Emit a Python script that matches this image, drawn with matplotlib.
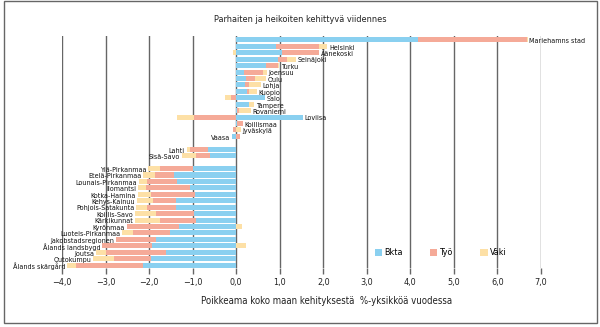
import matplotlib.pyplot as plt
import numpy as np
from matplotlib import font_manager
from matplotlib.patches import Rectangle

# narrowest installed sans for the crowded labels
fonts = font_manager.fontManager.ttflist
if any(f.name == 'Liberation Sans Narrow' for f in fonts):
    plt.rcParams['font.family'] = ['Liberation Sans Narrow', 'DejaVu Sans']
    stretch = 'normal'
elif any(f.name == 'DejaVu Sans' and f.stretch == 'condensed' for f in fonts):
    plt.rcParams['font.family'] = ['DejaVu Sans']
    stretch = 'condensed'
else:
    plt.rcParams['font.family'] = ['Liberation Sans', 'DejaVu Sans']
    stretch = 'normal'
plt.rcParams['font.stretch'] = stretch

# regions, top to bottom ('' = empty separator row)
regions = ['Mariehamns stad', 'Helsinki', 'Äänekoski', 'Seinäjoki', 'Turku', 'Joensuu',
           'Oulu', 'Lohja', 'Kuopio', 'Salo', 'Tampere', 'Rovaniemi', 'Loviisa',
           'Koillismaa', 'Jyväskylä', 'Vaasa', '', 'Lahti', 'Sisä-Savo', '',
           'Ylä-Pirkanmaa', 'Etelä-Pirkanmaa', 'Lounais-Pirkanmaa', 'Ilomantsi',
           'Kotka-Hamina', 'Kehys-Kainuu', 'Pohjois-Satakunta', 'Koillis-Savo',
           'Kärkikunnat', 'Kyrönmaa', 'Luoteis-Pirkanmaa', 'Jakobstadsregionen',
           'Ålands landsbygd', 'Joutsa', 'Outokumpu', 'Ålands skärgård']

bkta = [4.18, 0.92, 1.05, 0.95, 0.68, 0.19, 0.23, 0.21, 0.25, 0.67, 0.29, 0.03, 1.53,
        0.01, 0.00, -0.09, 0, -0.65, -0.61, 0,
        -0.99, -1.42, -1.35, -1.07, -0.94, -1.38, -1.38, -0.98, -0.92, -1.31, -1.51,
        -1.84, -1.93, -1.61, -1.95, -2.15]
tyo = [2.49, 0.99, 0.86, 0.21, 0.29, 0.42, 0.21, 0.08, 0.05, -0.12, 0.00, 0.03, -0.97,
       0.14, -0.08, 0.08, 0, -0.42, -0.31, 0,
       -0.77, -0.45, -0.70, -1.00, -1.01, -0.54, -0.67, -0.85, -0.84, -1.20, -0.87,
       -0.92, -1.15, -1.38, -0.86, -1.52]
vaki = [0.02, 0.18, -0.08, 0.21, 0.01, 0.09, 0.25, 0.28, 0.17, -0.13, 0.12, 0.28, -0.38,
        0.00, 0.10, 0.00, 0, -0.07, -0.33, 0,
        -0.27, -0.26, -0.19, -0.19, -0.31, -0.36, -0.24, -0.49, -0.57, 0.13, -0.24,
        0.00, 0.22, -0.22, -0.48, -0.21]

series = ['Bkta', 'Työ', 'Väki']
colors = ['#8ad0f0', '#f5aa98', '#fde0a6']

fig = plt.figure(figsize=(6, 3.27), dpi=100)
ax = fig.add_axes([62/600, 1 - 268/327, 479/600, 232/327])

y = np.arange(len(regions))
pos = np.zeros(len(regions))
neg = np.zeros(len(regions))
for name, vals, col in zip(series, [bkta, tyo, vaki], colors):
    v = np.array(vals)
    left = np.where(v >= 0, pos, neg)
    ax.barh(y, v, left=left, height=0.78, color=col, label=name, zorder=3)
    pos = pos + np.clip(v, 0, None)
    neg = neg + np.clip(v, None, 0)

# region names at the outer end of each bar
for i, name in enumerate(regions):
    if not name:
        continue
    net = bkta[i] + tyo[i] + vaki[i]
    if net >= 0:
        ax.text(pos[i] + 0.04, y[i] + 0.2, name, ha='left', va='center',
                fontsize=5.1, color='#111111', zorder=4)
    else:
        ax.text(neg[i] - 0.04, y[i] + 0.2, name, ha='right', va='center',
                fontsize=5.1, color='#111111', zorder=4)

ax.set_xlim(-4, 7)
ax.set_ylim(len(regions) - 0.55, -0.6)
ax.set_yticks([])
ax.set_xticks(np.arange(-4, 8))
ax.set_xticklabels([('%.1f' % t).replace('.', ',').replace('-', '\u2212')
                    for t in np.arange(-4, 8)], fontsize=6.5, color='#222222')
ax.tick_params(axis='x', length=4, width=1, color='#666666', pad=3)
for s in ax.spines.values():
    s.set_visible(False)
ax.grid(axis='x', color='#666666', linewidth=1, zorder=0)

ax.legend(loc='center left', bbox_to_anchor=(0.645, 0.065), ncol=3, frameon=False,
          fontsize=6.5, handlelength=0.8, handleheight=0.8, handletextpad=0.3,
          columnspacing=3.0, borderaxespad=0)

fig.text(0.5, 1 - 20/327, 'Parhaiten ja heikoiten kehittyvä viidennes',
         ha='center', va='center', fontsize=6.6, color='#222222')
fig.text(327/600, 1 - 301/327, 'Poikkeama koko maan kehityksestä  %-yksikköä vuodessa',
         ha='center', va='center', fontsize=6.9, color='#222222')

fig.patches.append(Rectangle((4/600, 4/327), 593/600, 322/327, transform=fig.transFigure,
                             fill=False, edgecolor='#666666', linewidth=1))

plt.savefig('out.png', dpi=100)
